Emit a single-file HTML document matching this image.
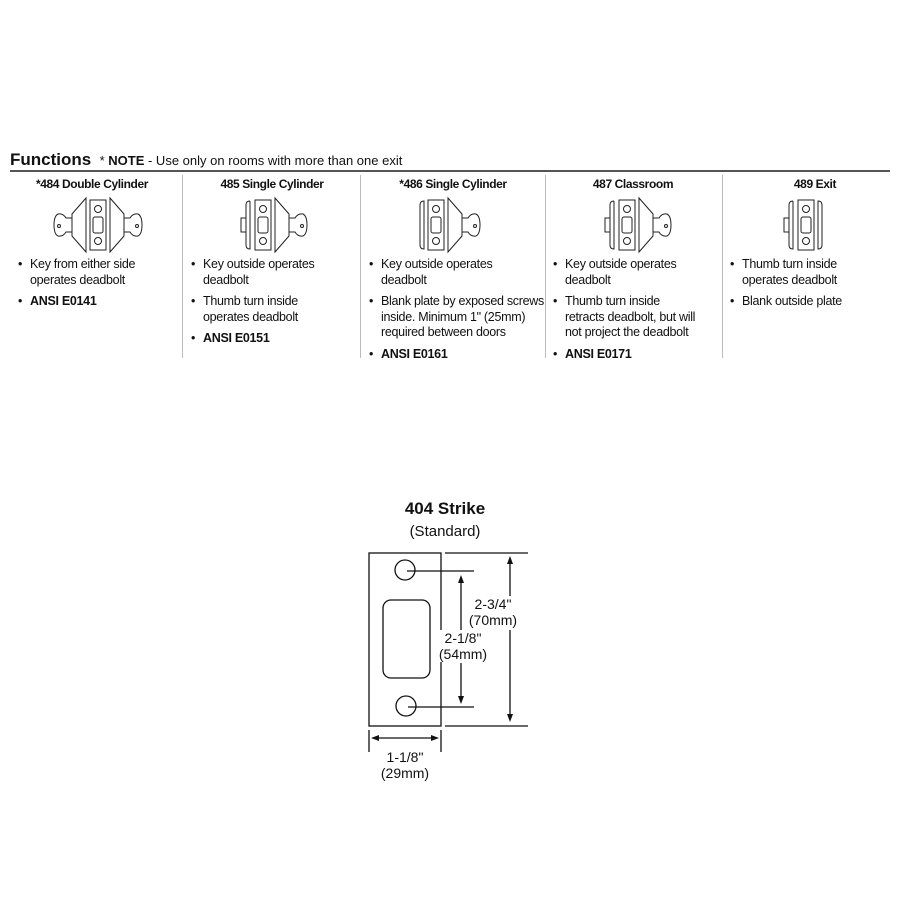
<!DOCTYPE html>
<html><head><style>
body{margin:0;width:900px;height:900px;background:#fff;font-family:"Liberation Sans",sans-serif;color:#111;position:relative;overflow:hidden}
.t{position:absolute;white-space:nowrap}
.h{font-weight:bold;font-size:12px;text-align:center;letter-spacing:-0.4px}
ul{position:absolute;margin:0;padding:0;list-style:none;font-size:12.5px;line-height:15.5px;letter-spacing:-0.3px;white-space:nowrap}
li{position:relative;padding-left:12px;margin-bottom:6px}
li:before{content:"•";position:absolute;left:0}
b{font-weight:bold}
</style></head><body>
<div class="t" style="left:10px;top:150px;font-size:17px;font-weight:bold">Functions <span style="font-size:13px;font-weight:normal">&nbsp;* <b>NOTE</b> - Use only on rooms with more than one exit</span></div>
<div style="position:absolute;left:10px;top:170px;width:880px;height:1.5px;background:#555"></div>
<div style="position:absolute;left:182px;top:175px;width:1px;height:183px;background:#bbb"></div>
<div style="position:absolute;left:360px;top:175px;width:1px;height:183px;background:#bbb"></div>
<div style="position:absolute;left:545px;top:175px;width:1px;height:183px;background:#bbb"></div>
<div style="position:absolute;left:722px;top:175px;width:1px;height:183px;background:#bbb"></div>

<div class="t h" style="left:12px;width:160px;top:177px">*484 Double Cylinder</div>
<div class="t h" style="left:192px;width:160px;top:177px">485 Single Cylinder</div>
<div class="t h" style="left:373px;width:160px;top:177px">*486 Single Cylinder</div>
<div class="t h" style="left:553px;width:160px;top:177px">487 Classroom</div>
<div class="t h" style="left:735px;width:160px;top:177px">489 Exit</div>

<svg width="900" height="900" style="position:absolute;left:0;top:0" fill="none" stroke="#222" stroke-width="1">
<defs>
<g id="plate"><rect x="-8" y="-25" width="16" height="50"/><rect x="-5" y="-8" width="10" height="16" rx="2"/><circle cx="0" cy="-16" r="3.5"/><circle cx="0" cy="16" r="3.5"/></g>
<g id="keyR"><path d="M0,-27 L14,-11 L14,11 L0,27 Z"/><path d="M14,-7 h6 q3,-5 8,-4 q4,2 4,11 q0,9 -4,11 q-5,1 -8,-4 h-6"/><circle cx="27" cy="1" r="1.5"/></g>
<g id="thumb"><path d="M-3,-24 q-4,0 -4,4 v40 q0,4 4,4 v-48"/><rect x="-12" y="-7" width="5" height="14"/></g>
<g id="blank"><path d="M0,-24 q4,0 4,4 v40 q0,4 -4,4 z"/></g>
</defs>
<g transform="translate(98,225)"><use href="#plate"/><g transform="translate(12,0)"><use href="#keyR"/></g><g transform="translate(-12,0) scale(-1,1)"><use href="#keyR"/></g></g>
<g transform="translate(263,225)"><use href="#plate"/><g transform="translate(12,0)"><use href="#keyR"/></g><g transform="translate(-10,0)"><use href="#thumb"/></g></g>
<g transform="translate(436,225)"><use href="#plate"/><g transform="translate(12,0)"><use href="#keyR"/></g><g transform="translate(-12,0) scale(-1,1)"><use href="#blank"/></g></g>
<g transform="translate(627,225)"><use href="#plate"/><g transform="translate(12,0)"><use href="#keyR"/></g><g transform="translate(-10,0)"><use href="#thumb"/></g></g>
<g transform="translate(806,225)"><use href="#plate"/><g transform="translate(12,0)"><use href="#blank"/></g><g transform="translate(-10,0)"><use href="#thumb"/></g></g>

<g stroke="#111" stroke-width="1.3">
<rect x="369" y="553" width="72" height="173"/>
<circle cx="405" cy="570" r="10"/><circle cx="406" cy="706" r="10"/>
<rect x="383" y="600" width="47" height="78" rx="8"/>
<line x1="407" y1="571" x2="474" y2="571"/><line x1="408" y1="707" x2="474" y2="707"/>
<line x1="445" y1="553" x2="528" y2="553"/><line x1="445" y1="726" x2="528" y2="726"/>
<line x1="510" y1="560" x2="510" y2="598"/><line x1="510" y1="630" x2="510" y2="719"/>
<line x1="461" y1="580" x2="461" y2="630"/><line x1="461" y1="663" x2="461" y2="699"/>
<line x1="369" y1="730" x2="369" y2="752"/><line x1="441" y1="730" x2="441" y2="752"/>
<line x1="375" y1="738" x2="435" y2="738"/>
</g>
<g fill="#111" stroke="none">
<path d="M510,556 l-3,8 h6z"/><path d="M510,722 l-3,-8 h6z"/>
<path d="M461,575 l-3,8 h6z"/><path d="M461,704 l-3,-8 h6z"/>
<path d="M371,738 l8,-3 v6z"/><path d="M439,738 l-8,-3 v6z"/>
</g>
</svg>

<ul style="left:18px;top:257px"><li>Key from either side<br>operates deadbolt</li><li><b>ANSI E0141</b></li></ul>
<ul style="left:191px;top:257px"><li>Key outside operates<br>deadbolt</li><li>Thumb turn inside<br>operates deadbolt</li><li><b>ANSI E0151</b></li></ul>
<ul style="left:369px;top:257px"><li>Key outside operates<br>deadbolt</li><li>Blank plate by exposed screws<br>inside. Minimum 1" (25mm)<br>required between doors</li><li><b>ANSI E0161</b></li></ul>
<ul style="left:553px;top:257px"><li>Key outside operates<br>deadbolt</li><li>Thumb turn inside<br>retracts deadbolt, but will<br>not project the deadbolt</li><li><b>ANSI E0171</b></li></ul>
<ul style="left:730px;top:257px"><li>Thumb turn inside<br>operates deadbolt</li><li>Blank outside plate</li></ul>

<div class="t" style="left:345px;width:200px;text-align:center;top:499px;font-size:17px;font-weight:bold">404 Strike</div>
<div class="t" style="left:345px;width:200px;text-align:center;top:523px;font-size:15px">(Standard)</div>
<div class="t" style="left:463px;width:60px;text-align:center;top:596px;font-size:14px;background:#fff;line-height:16px">2-3/4"<br>(70mm)</div>
<div class="t" style="left:433px;width:60px;text-align:center;top:630px;font-size:14px;line-height:16px;background:#fff">2-1/8"<br>(54mm)</div>
<div class="t" style="left:375px;width:60px;text-align:center;top:749px;font-size:14px;line-height:16px">1-1/8"<br>(29mm)</div>
</body></html>
